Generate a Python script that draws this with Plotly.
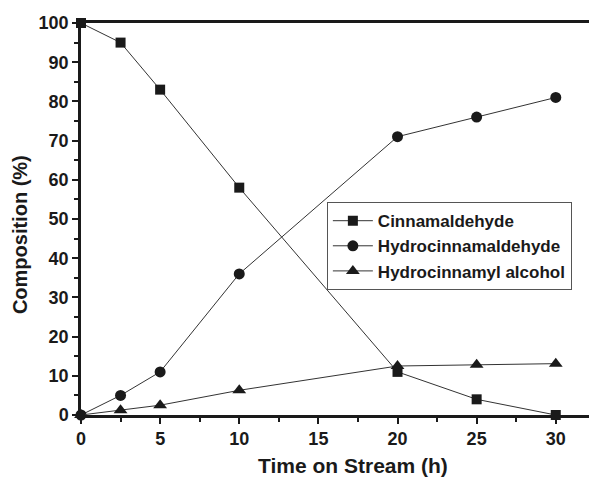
import plotly.graph_objects as go

time_h = [0, 2.5, 5, 10, 20, 25, 30]
cinnamaldehyde = [100, 95, 83, 58, 11, 4, 0]
hydrocinnamaldehyde = [0, 5, 11, 36, 71, 76, 81]
hydrocinnamyl_alcohol = [0, 1.2, 2.5, 6.3, 12.5, 12.8, 13.1]
x_ticks = [0, 5, 10, 15, 20, 25, 30]
y_ticks = list(range(0, 101, 10))

fig = go.Figure()
series = [
    ("Cinnamaldehyde", cinnamaldehyde, "square", 10),
    ("Hydrocinnamaldehyde", hydrocinnamaldehyde, "circle", 11),
    ("Hydrocinnamyl alcohol", hydrocinnamyl_alcohol, "triangle-up", 12),
]
for name, y, sym, sz in series:
    fig.add_trace(go.Scatter(
        x=time_h, y=y, name="<b>" + name + "</b>", mode="lines+markers",
        line=dict(color="#333333", width=1),
        marker=dict(symbol=sym, size=sz, color="#1a1a1a"),
        cliponaxis=False,
    ))

fig.update_layout(
    width=589, height=478,
    margin=dict(l=81, r=0, t=23, b=63),
    paper_bgcolor="white", plot_bgcolor="white",
    font=dict(family="Liberation Sans, Arial, sans-serif", color="#1a1a1a"),
    showlegend=True,
    legend=dict(
        x=0.484, y=0.543, xanchor="left", yanchor="top",
        bordercolor="#555555", borderwidth=1, bgcolor="white",
        font=dict(size=17),
        tracegroupgap=0, itemwidth=40,
    ),
    xaxis=dict(
        range=[0, 32.1], tickvals=x_ticks, ticktext=["<b>%d</b>" % v for v in x_ticks],
        ticks="outside", ticklen=6, tickwidth=2, tickcolor="#1a1a1a",
        minor=dict(tickvals=[2.5, 7.5, 12.5, 17.5, 22.5, 27.5], ticks="outside", ticklen=4, tickwidth=1.5, tickcolor="#1a1a1a"),
        showline=True, linewidth=2.5, linecolor="#1a1a1a", mirror=True,
        showgrid=False, zeroline=False,
        tickfont=dict(size=18),
    ),
    yaxis=dict(
        range=[0, 100], tickvals=y_ticks, ticktext=["<b>%d</b>" % v for v in y_ticks],
        ticks="outside", ticklen=6, tickwidth=2, tickcolor="#1a1a1a",
        minor=dict(tickvals=list(range(5, 100, 10)), ticks="outside", ticklen=4, tickwidth=1.5, tickcolor="#1a1a1a"),
        showline=True, linewidth=2.5, linecolor="#1a1a1a",
        showgrid=False, zeroline=False,
        tickfont=dict(size=18),
    ),
    annotations=[
        dict(text="<b>Time on Stream (h)</b>", xref="paper", yref="paper",
             x=0.535, y=-0.130, xanchor="center", yanchor="middle",
             showarrow=False, font=dict(size=21)),
        dict(text="<b>Composition (%)</b>", xref="paper", yref="paper",
             x=-0.120, y=0.459, xanchor="center", yanchor="middle",
             textangle=-90, showarrow=False, font=dict(size=20)),
    ],
)

fig.write_html("out.html")
